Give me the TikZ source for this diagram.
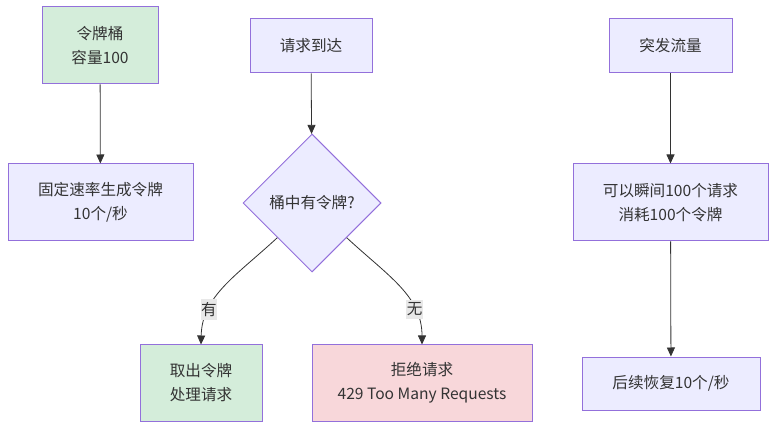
\documentclass[tikz,border=0pt]{standalone}
\usepackage{fontspec}
\setmainfont{Noto Sans CJK SC}
\usetikzlibrary{arrows.meta,positioning,shapes.geometric}
\definecolor{boxFill}{HTML}{ECECFF}
\definecolor{boxLine}{HTML}{9370DB}
\definecolor{okFill}{HTML}{D4EDDA}
\definecolor{failFill}{HTML}{F8D7DA}
\definecolor{inkColor}{HTML}{333333}
\definecolor{labFill}{HTML}{E8E8E8}
\tikzset{flow box/.style={draw=boxLine, fill=boxFill, line width=1pt, text=inkColor,
		align=center, inner sep=0pt, font=\fontsize{15.6}{24}\selectfont}}
\tikzset{ok box/.style={flow box, fill=okFill}}
\tikzset{fail box/.style={flow box, fill=failFill}}
\tikzset{check box/.style={flow box, diamond, minimum width=138pt, minimum height=138pt}}
\tikzset{edge lab/.style={fill=labFill, text=inkColor, inner xsep=0.5pt, inner ysep=3pt, font=\fontsize{15.6}{18}\selectfont}}

\begin{document}
\begin{tikzpicture}[x=1pt,y=-1pt,-{Triangle[length=9pt,width=8pt]},draw=inkColor,line width=0.8pt]
	\useasboundingbox (0,0) rectangle (784,435);
	% bucket side
	\node[ok box, minimum width=116pt, minimum height=77pt] at (100,45.5) (bucket) {令牌桶\\容量100};
	\node[flow box, minimum width=185pt, minimum height=77pt] at (100.5,202.5) (refill) {固定速率生成令牌\\10个/秒};
	% request side
	\node[flow box, minimum width=122pt, minimum height=54pt] at (311,46) (arrive) {请求到达};
	\node[check box] at (312,203) (check) {桶中有令牌?};
	\node[ok box, minimum width=122pt, minimum height=76pt] at (201,383) (take) {取出令牌\\处理请求};
	\node[fail box, minimum width=220pt, minimum height=76pt] at (422,383) (reject) {拒绝请求\\429 Too Many Requests};
	% burst side
	\node[flow box, minimum width=123pt, minimum height=54pt] at (670.5,46) (burst) {突发流量};
	\node[flow box, minimum width=195pt, minimum height=77pt] at (670.5,202.5) (spend) {可以瞬间100个请求\\消耗100个令牌};
	\node[flow box, minimum width=178pt, minimum height=53pt] at (671,383.5) (recover) {后续恢复10个/秒};

	\draw (bucket) -- (refill);
	\draw (arrive) -- (check);
	\draw (check.south west) .. controls (236,276) and (202,296) .. node[edge lab, pos=0.72, -] {有} (take.north);
	\draw (check.south east) .. controls (388,276) and (422,296) .. node[edge lab, pos=0.72, -] {无} (reject.north);
	\draw (burst) -- (spend);
	\draw (spend) -- (recover);
\end{tikzpicture}
\end{document}
